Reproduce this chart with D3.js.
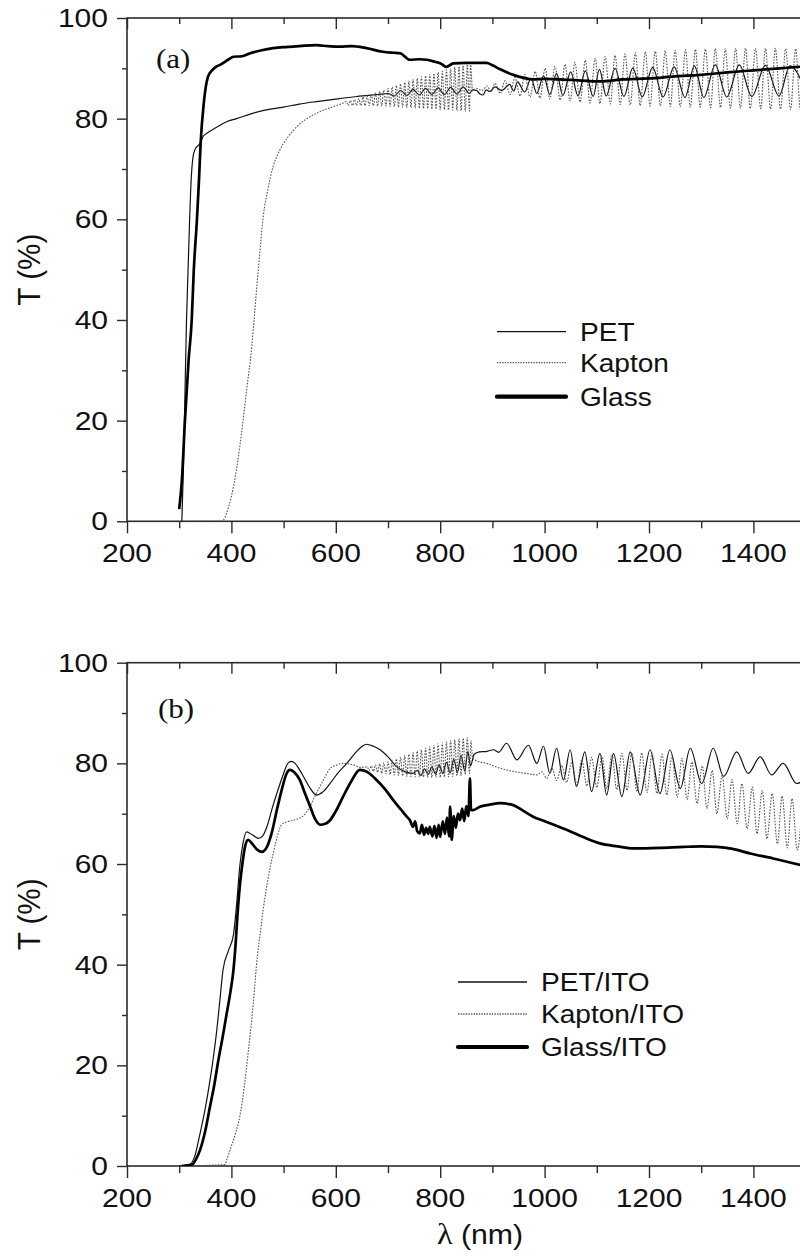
<!DOCTYPE html>
<html>
<head>
<meta charset="utf-8">
<script src="https://cdn.jsdelivr.net/npm/d3@7"></script>
<style>
  body { margin: 0; background: #fff; }
  svg { display: block; }
</style>
</head>
<body>
<div id="chart-area"></div>
<script>
// ---- data: [wavelength nm, T %] ----

// (a) bare substrates
const petA = [
  [305, 0], [308, 10], [311, 25], [314, 40], [317, 50], [320, 60], [323, 68], [326, 72], [330, 73.8],
  [340, 75.1], [346, 76.5], [353, 77.1], [370, 78.2], [391, 79.4], [410, 80], [436, 80.9], [460, 81.6],
  [500, 82.3], [530, 82.9], [563, 83.4], [600, 83.9], [640, 84.4], [680, 84.8], [700, 85.0],
  [712, 84.5], [724, 85.6], [736, 84.6], [748, 85.8], [760, 84.7], [772, 86.0], [784, 84.8], [796, 86.1],
  [808, 84.8], [820, 86.2], [832, 84.9], [844, 86.3], [856, 85.0], [862, 85.7], [870, 85.6],
  [876, 84.9], [882, 84.7], [888, 85.7], [895, 85.4], [905, 86.3], [918, 85.6],
  [933, 86.8], [941, 85.5], [948, 87.3], [962, 85.3], [974, 88.0], [985, 85.0], [998, 88.5],
  [1010, 84.8], [1023, 89.0], [1035, 84.6], [1050, 89.3], [1064, 84.5], [1078, 89.5], [1093, 84.4],
  [1105, 89.8], [1118, 84.5], [1135, 90.0], [1152, 84.4], [1169, 90.1], [1187, 84.3], [1207, 90.2],
  [1227, 84.3], [1248, 90.3], [1269, 84.2], [1287, 90.5], [1305, 84.2], [1327, 90.7], [1349, 84.3],
  [1373, 90.7], [1397, 84.4], [1423, 90.6], [1449, 84.5], [1470, 90.5], [1500, 85.5]
]

const kaptonA = [
  [305, 0], [380, 0], [385, 0.3], [395, 3], [404, 6.9], [416, 14.8], [429, 26], [439, 34.7], [445, 42],
  [449, 47], [455, 54], [461, 60.5], [470, 66], [480, 70.5], [490, 73.2], [500, 75.1], [519, 77.7],
  [535, 79.3], [551, 80.4], [570, 81.4], [595, 82.4], [612, 83],
  [620, 83.4], [624, 82.6], [628, 83.6], [632, 82.6], [636, 83.8], [640, 82.6], [644, 84.0], [648, 82.6],
  [652, 84.3], [656, 82.6], [660, 84.5], [664, 82.6], [668, 84.8], [672, 82.6], [676, 85.1], [680, 82.5],
  [684, 85.4], [688, 82.5], [692, 85.7], [696, 82.5], [700, 86.0], [704, 82.4], [708, 86.3], [712, 82.4],
  [716, 86.6], [720, 82.3], [724, 86.9], [728, 82.3], [732, 87.2], [736, 82.2], [740, 87.5], [744, 82.2],
  [748, 87.8], [752, 82.1], [756, 88.0], [760, 82.1], [764, 88.3], [768, 82.0], [772, 88.5], [776, 82.0],
  [780, 88.8], [784, 81.9], [788, 89.0], [792, 81.9], [796, 89.2], [800, 81.8], [804, 89.4], [808, 81.8],
  [812, 89.7], [816, 81.7], [820, 89.9], [824, 81.7], [828, 90.2], [832, 81.6], [836, 90.4], [840, 81.6],
  [844, 90.6], [848, 81.5], [852, 90.8], [856, 81.5], [858, 91.0],
  [862, 85.5], [870, 86.0], [880, 85.6], [890, 86.5], [897, 85.3],
  [905, 87.0], [915, 85.0], [924, 87.5], [934, 84.8], [943, 88.2], [953, 84.5], [962, 88.8], [972, 84.3],
  [982, 89.4], [991, 84.1], [1001, 90.0], [1010, 83.9], [1020, 90.4], [1030, 83.7], [1039, 90.8],
  [1049, 83.5], [1058, 91.2], [1068, 83.3], [1078, 91.6], [1087, 83.1], [1097, 92.0], [1106, 83.0],
  [1116, 92.3], [1126, 82.9], [1135, 92.6], [1145, 82.8], [1154, 92.9], [1164, 82.7], [1174, 93.1],
  [1183, 82.6], [1193, 93.3], [1202, 82.5], [1212, 93.4], [1222, 82.5], [1231, 93.5], [1241, 82.4],
  [1250, 93.6], [1260, 82.4], [1270, 93.7], [1279, 82.3], [1289, 93.8], [1298, 82.3], [1308, 93.8],
  [1318, 82.2], [1327, 93.9], [1337, 82.2], [1346, 93.9], [1356, 82.1], [1366, 94.0], [1375, 82.1],
  [1385, 94.0], [1394, 82.0], [1404, 94.0], [1414, 82.0], [1423, 94.0], [1433, 81.9], [1442, 94.0],
  [1452, 81.9], [1462, 93.9], [1471, 81.8], [1481, 93.9], [1490, 81.8], [1500, 93.8]
]

const glassA = [
  [300, 2.4], [305, 8], [311, 20], [318, 32], [324, 40], [328, 50], [334, 60], [338, 68], [341, 75],
  [347, 83], [355, 88.3], [362, 89.5], [369, 90.2], [380, 90.8], [395, 91.8], [404, 92.3], [420, 92.4],
  [436, 93], [458, 93.6], [480, 94], [500, 94.2], [519, 94.3], [540, 94.5], [563, 94.6], [585, 94.4],
  [608, 94.3], [630, 94.4], [659, 94], [690, 93.3], [710, 93.1], [723, 93], [742, 91.7], [760, 91.8],
  [774, 91.7], [790, 91.3], [800, 91], [812, 90.3], [825, 91], [850, 91.1], [889, 91.1], [900, 90.6],
  [915, 89.8], [940, 88.7], [960, 88.1], [978, 87.8], [1000, 87.9], [1050, 87.7], [1106, 87.4],
  [1150, 87.8], [1200, 88], [1250, 88.4], [1298, 88.7], [1350, 89.2], [1400, 89.6], [1450, 90],
  [1500, 90.4]
]

// (b) substrates with ITO
const petB = [
  [300, 0], [320, 0.3], [330, 2], [340, 6.5], [350, 11.5], [359, 17], [366, 22], [372, 27], [378, 33],
  [384, 39], [395, 43], [404, 46], [410, 52], [416, 59.5], [422, 64], [429, 66.4], [440, 65.8],
  [452, 65.1], [460, 65.6], [468, 67.4], [478, 71], [487, 74], [500, 78], [508, 80], [515, 80.4],
  [522, 80], [530, 78.8], [538, 77.4], [550, 75.2], [563, 73.7], [575, 74.3], [589, 76], [605, 78.2],
  [621, 80], [635, 81.8], [648, 83.2], [659, 83.8], [672, 83.4], [685, 82.7], [700, 81.3], [717, 79.3],
  [733, 78.3], [748, 78],
  [756, 78.6], [763, 77.6], [770, 78.9], [777, 77.8], [784, 79.3], [791, 77.9], [798, 79.7], [805, 78.0],
  [812, 80.2], [819, 78.1], [826, 80.8], [833, 78.2], [840, 81.6], [847, 78.5], [853, 82.4], [858, 79.5],
  [865, 81.8], [875, 82.3], [890, 82.4], [902, 82.7], [912, 82.2],
  [927, 84.0], [947, 80.7], [969, 83.6], [985, 80.0], [998, 83.4], [1010, 78.0], [1023, 83.0],
  [1036, 76.7], [1049, 82.7], [1061, 75.4], [1077, 82.3], [1090, 74.4], [1106, 82.0], [1119, 73.7],
  [1132, 82.0], [1148, 73.4], [1164, 82.3], [1183, 73.7], [1202, 82.7], [1221, 74.0], [1240, 82.7],
  [1260, 75.0], [1279, 83.0], [1301, 76.0], [1323, 83.0], [1343, 77.4], [1368, 82.3], [1390, 78.0],
  [1413, 81.3], [1435, 77.7], [1457, 80.0], [1483, 76.0], [1500, 77]
]

const kaptonB = [
  [305, 0], [388, 0.3], [391, 1.2], [400, 4], [408, 6.5], [416, 9.8], [425, 16], [432, 22.4],
  [442, 32.4], [450, 42], [455, 46], [461, 51], [470, 57], [480, 62.1], [488, 65.5], [496, 67.8],
  [507, 68.4], [519, 68.7], [530, 69.1], [538, 69.6], [545, 70.5], [551, 71.5], [560, 73.5],
  [570, 75.5], [580, 77.4], [589, 79], [600, 79.6], [614, 80], [625, 79.9], [634, 79.7], [648, 79.2],
  [660, 79.3], [664, 78.6], [668, 79.5], [672, 78.4], [676, 79.7], [680, 78.2], [684, 79.9], [688, 78.0],
  [692, 80.1], [696, 77.9], [700, 80.3], [704, 77.8], [708, 80.6], [712, 77.7], [716, 80.9], [720, 77.6],
  [724, 81.2], [728, 77.5], [732, 81.5], [736, 77.4], [740, 81.8], [744, 77.4], [748, 82.1], [752, 77.3],
  [756, 82.4], [760, 77.3], [764, 82.7], [768, 77.3], [772, 83.0], [776, 77.2], [780, 83.3], [784, 77.2],
  [788, 83.6], [792, 77.2], [796, 83.9], [800, 77.2], [804, 84.1], [808, 77.3], [812, 84.3], [816, 77.3],
  [820, 84.5], [824, 77.4], [828, 84.7], [832, 77.5], [836, 84.9], [840, 77.6], [844, 85.0], [848, 77.8],
  [852, 85.1], [856, 78.0], [859, 84.5],
  [862, 81], [870, 80.5], [889, 80], [910, 79.2], [940, 78.4], [965, 78], [985, 77.7],
  [995, 78.3], [1004, 77.0], [1014, 79.0], [1023, 76.6], [1033, 79.6], [1042, 76.2], [1052, 80.2],
  [1062, 75.8], [1071, 80.7], [1081, 75.5], [1090, 81.2], [1100, 75.2], [1110, 81.5], [1119, 75.0],
  [1129, 81.8], [1138, 74.8], [1148, 82.0], [1158, 74.6], [1167, 82.1], [1177, 74.4], [1186, 82.1],
  [1196, 74.2], [1206, 82.0], [1215, 74.0], [1225, 81.8], [1234, 73.7], [1244, 81.5], [1254, 73.3],
  [1263, 81.0], [1273, 72.8], [1282, 80.3], [1292, 72.0], [1302, 79.5], [1311, 71.0], [1321, 78.6],
  [1330, 70.0], [1340, 77.6], [1350, 69.0], [1359, 76.8], [1369, 68.0], [1378, 76.0], [1388, 67.0],
  [1398, 75.3], [1407, 66.0], [1417, 74.6], [1426, 65.0], [1436, 74.0], [1446, 64.0], [1455, 73.5],
  [1465, 63.2], [1474, 73.0], [1484, 62.8], [1494, 72.5]
]

const glassB = [
  [305, 0], [325, 0.3], [333, 1.5], [340, 3.2], [350, 7], [359, 11.8], [367, 16], [375, 21], [383, 25.5],
  [391, 30.3], [398, 34.5], [404, 39], [408, 44], [411, 48.9], [416, 55.5], [421, 60], [426, 63.4],
  [432, 64.8], [440, 64], [450, 62.8], [458, 62.4], [468, 63.4], [478, 66.5], [487, 70.7], [497, 75],
  [505, 77.8], [512, 78.7], [520, 78.3], [531, 76.7], [541, 74], [551, 71.4], [560, 69], [570, 67.8],
  [580, 68], [589, 68.7], [600, 70.5], [614, 73.4], [630, 76.5], [646, 78.7], [660, 78.3], [678, 76.7],
  [695, 74.8], [710, 72.7], [725, 70.8], [736, 69.4], [742, 68.7],
  [748, 67.4], [752, 68.5], [756, 66.5], [761, 66.1], [765, 67.8], [769, 65.8], [773, 67.2], [777, 66],
  [780, 67.4], [785, 65.5], [789, 67.6], [793, 65.2], [797, 67.8], [800, 65.4], [805, 68.5], [809, 66],
  [813, 69.2], [817, 65.5], [819, 71.4], [822, 64.8], [826, 69.5], [830, 67.2], [834, 70], [838, 68.7],
  [842, 71], [846, 68.5], [850, 71.5], [854, 69.5], [857, 77], [859, 70.7], [863, 70.7], [876, 71.4],
  [895, 71.8], [914, 72.1], [940, 71.7], [960, 70.5], [978, 69.4], [1000, 68.5], [1042, 66.8],
  [1075, 65.3], [1106, 64.1], [1140, 63.5], [1170, 63.1], [1220, 63.2], [1266, 63.4], [1300, 63.5],
  [1330, 63.4], [1360, 63], [1394, 62.1], [1438, 61.1], [1470, 60.3], [1500, 59.6]
]

const xMajor = [200, 400, 600, 800, 1000, 1200, 1400]
const xMinor = [300, 500, 700, 900, 1100, 1300, 1500]
const yMajor = [0, 20, 40, 60, 80, 100]
const yMinor = [10, 30, 50, 70, 90]

const legendA = ["PET", "Kapton", "Glass"]
const legendB = ["PET/ITO", "Kapton/ITO", "Glass/ITO"]

// ---- layout ----
const W = 800, H = 1259
const LEFT = 127, RIGHT = 805.6
const AXIS = "#2b2b2b"
const FONT = "'Liberation Sans', Arial, sans-serif"
const STRETCH = 1.2

const svg = d3.select("#chart-area").append("svg")
  .attr("width", W)
  .attr("height", H)

const x = d3.scaleLinear().domain([200, 1500]).range([LEFT, RIGHT])

const styles = [
  { width: 1.2, dash: null, color: "#111" },        // PET
  { width: 1.1, dash: "1.6,1.4", color: "#555" },   // Kapton
  { width: 2.7, dash: null, color: "#000" }         // Glass
]

function drawPanel(cfg) {
  const y = d3.scaleLinear().domain([0, 100]).range([cfg.bottom, cfg.top])
  const g = svg.append("g")

  // ticks
  const tick = (axis, ty) => {
    const a = g.append("g").attr("transform", ty).call(axis)
    a.select(".domain").remove()
    a.selectAll("line").attr("stroke", AXIS).attr("stroke-width", 1.4)
  }
  tick(d3.axisBottom(x).tickValues(xMajor).tickSize(12).tickFormat(""), `translate(0,${cfg.bottom})`)
  tick(d3.axisBottom(x).tickValues(xMinor).tickSize(7).tickFormat(""), `translate(0,${cfg.bottom})`)
  tick(d3.axisBottom(x).tickValues(xMajor).tickSize(11).tickFormat(""), `translate(0,${cfg.top})`)
  tick(d3.axisBottom(x).tickValues(xMinor).tickSize(6).tickFormat(""), `translate(0,${cfg.top})`)
  tick(d3.axisLeft(y).tickValues(yMajor).tickSize(10).tickFormat(""), `translate(${LEFT},0)`)
  tick(d3.axisLeft(y).tickValues(yMinor).tickSize(5).tickFormat(""), `translate(${LEFT},0)`)
  tick(d3.axisLeft(y).tickValues(yMajor).tickSize(-11).tickFormat(""), `translate(${RIGHT},0)`)
  tick(d3.axisLeft(y).tickValues(yMinor).tickSize(-6).tickFormat(""), `translate(${RIGHT},0)`)

  // frame
  g.append("rect")
    .attr("x", LEFT).attr("y", cfg.top)
    .attr("width", RIGHT - LEFT).attr("height", cfg.bottom - cfg.top)
    .attr("fill", "none").attr("stroke", AXIS).attr("stroke-width", 1.6)

  // tick labels
  g.selectAll(".xl").data(xMajor).enter().append("text")
    .attr("transform", d => `translate(${x(d)},${cfg.bottom + 41}) scale(${STRETCH},1)`)
    .attr("text-anchor", "middle")
    .attr("font-family", FONT).attr("font-size", 25).attr("fill", "#111")
    .text(d => d)

  g.selectAll(".yl").data(yMajor).enter().append("text")
    .attr("transform", d => `translate(108,${y(d)}) scale(${STRETCH},1)`)
    .attr("text-anchor", "end").attr("dy", "0.36em")
    .attr("font-family", FONT).attr("font-size", 25).attr("fill", "#111")
    .text(d => d)

  // y title
  g.append("text")
    .attr("transform", `translate(40,${(cfg.top + cfg.bottom) / 2}) rotate(-90) scale(1.1,1.15)`)
    .attr("text-anchor", "middle")
    .attr("font-family", FONT).attr("font-size", 27).attr("fill", "#111")
    .text("T (%)")

  // panel tag
  g.append("text")
    .attr("transform", `translate(${cfg.tagX},${cfg.tagY}) scale(1.15,1)`)
    .attr("font-family", "'Liberation Serif', 'Times New Roman', serif")
    .attr("font-size", 27).attr("fill", "#111")
    .text(cfg.tag)

  // curves
  const clip = "clip-" + cfg.tag.replace(/\W/g, "")
  svg.append("clipPath").attr("id", clip).append("rect")
    .attr("x", LEFT).attr("y", cfg.top - 5)
    .attr("width", RIGHT - LEFT).attr("height", cfg.bottom - cfg.top + 5)

  const line = d3.line()
    .x(d => x(d[0]))
    .y(d => y(d[1]))
    .curve(d3.curveMonotoneX)

  cfg.series.forEach((s, i) => {
    const st = styles[i]
    g.append("path")
      .attr("clip-path", `url(#${clip})`)
      .attr("d", line(s))
      .attr("fill", "none")
      .attr("stroke", st.color)
      .attr("stroke-width", st.width)
      .attr("stroke-dasharray", st.dash)
      .attr("stroke-linejoin", "round")
  })

  // legend
  cfg.legend.forEach((name, i) => {
    const st = styles[i]
    const ly = cfg.legY[i]
    g.append("line")
      .attr("x1", cfg.legX).attr("x2", cfg.legX + 69)
      .attr("y1", ly).attr("y2", ly)
      .attr("stroke", st.color)
      .attr("stroke-width", i === 2 ? 4.2 : 1.3)
      .attr("stroke-dasharray", i === 1 ? "1.4,1.2" : null)
      .attr("stroke-linecap", i === 2 ? "round" : "butt")
    g.append("text")
      .attr("transform", `translate(${cfg.legX + 83},${ly + 9}) scale(1.08,1)`)
      .attr("font-family", FONT).attr("font-size", 26).attr("fill", "#111")
      .text(name)
  })
}

drawPanel({
  top: 18, bottom: 521.3, tag: "(a)", tagX: 156, tagY: 68,
  series: [petA, kaptonA, glassA],
  legend: legendA, legX: 497, legY: [331.7, 362.7, 396.7]
})

drawPanel({
  top: 662.7, bottom: 1166, tag: "(b)", tagX: 158, tagY: 718,
  series: [petB, kaptonB, glassB],
  legend: legendB, legX: 458, legY: [982, 1014, 1047]
})

// x title
const xt = svg.append("text")
  .attr("transform", "translate(480,1244) scale(1.08,1)")
  .attr("text-anchor", "middle")
  .attr("font-family", FONT).attr("font-size", 28).attr("fill", "#111")
xt.append("tspan").attr("font-family", "'Liberation Serif', serif").attr("font-size", 30).text("λ")
xt.append("tspan").text(" (nm)")
</script>
</body>
</html>
